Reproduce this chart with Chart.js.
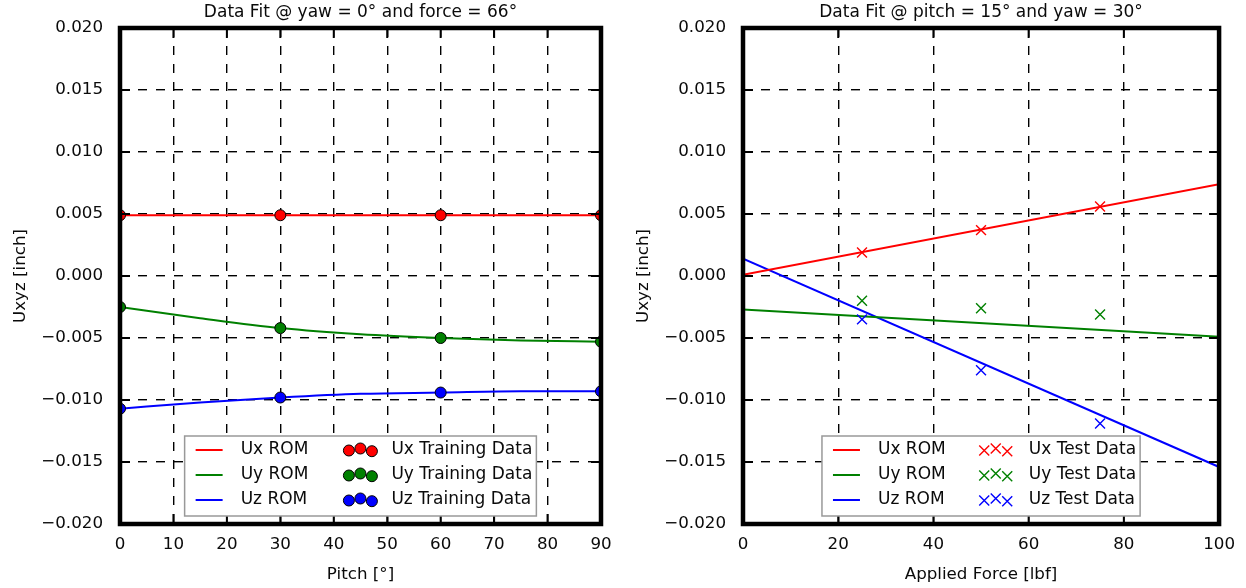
<!DOCTYPE html>
<html>
<head>
<meta charset="utf-8">
<script src="https://cdn.jsdelivr.net/npm/chart.js@4.4.1/dist/chart.umd.min.js"></script>
<style>
  html, body { margin: 0; padding: 0; background: #fff; }
  #wrap { position: relative; width: 1246px; height: 588px; }
  .panel { position: absolute; top: 0; width: 623px; height: 588px; }
</style>
</head>
<body>
<div id="wrap">
  <div class="panel" style="left:0"><canvas id="pitchChart" width="623" height="588"></canvas></div>
  <div class="panel" style="left:623px"><canvas id="forceChart" width="623" height="588"></canvas></div>
</div>
<script>
// Left panel: yaw = 0, force = 66, sweep over pitch
const pitchTrain = [0, 30, 60, 90];
const uxTrain = [0.0049, 0.0049, 0.0049, 0.0049];
const uyTrain = [-0.0025, -0.0042, -0.0050, -0.0053];
const uzTrain = [-0.0107, -0.0098, -0.0094, -0.0093];

// ROM fit curves read along the pitch axis
const pitchRom = [0, 15, 30, 45, 60, 75, 90];
const uxRomPitch = [0.0049, 0.0049, 0.0049, 0.0049, 0.0049, 0.0049, 0.0049];
const uyRomPitch = [-0.0025, -0.0034, -0.0042, -0.0047, -0.0050, -0.0052, -0.0053];
const uzRomPitch = [-0.0107, -0.0102, -0.0098, -0.0095, -0.0094, -0.0093, -0.0093];

// Right panel: pitch = 15, yaw = 30, sweep over applied force
const forceRom = [0, 100];
const uxRomForce = [0.0001, 0.0074];
const uyRomForce = [-0.0027, -0.0049];
const uzRomForce = [0.0014, -0.0154];

const forceTest = [25, 50, 75];
const uxTest = [0.0019, 0.0037, 0.0056];
const uyTest = [-0.0020, -0.0026, -0.0031];
const uzTest = [-0.0035, -0.0076, -0.0119];

// Tick labels
const yTicks = [-0.020, -0.015, -0.010, -0.005, 0.000, 0.005, 0.010, 0.015, 0.020];
const pitchTicks = [0, 10, 20, 30, 40, 50, 60, 70, 80, 90];
const forceTicks = [0, 20, 40, 60, 80, 100];

const RED = '#ff0000', GREEN = '#008000', BLUE = '#0000ff';
const FONT = '"DejaVu Sans", sans-serif';

Chart.defaults.font.family = FONT;
Chart.defaults.font.size = 16.7;
Chart.defaults.color = '#0a0a0a';

function pts(xs, ys) {
    return xs.map((x, i) => ({ x: x, y: ys[i] }));
}

function fmtY(v) {
    if (Math.abs(v) < 1e-9) return '0.000';
    return v.toFixed(3).replace('-', '\u2212');
}

// thick frame plus the short inward tick marks
const frameTicks = {
    id: 'frameTicks',
    afterDatasetsDraw(chart) {
        const { ctx, chartArea: a, scales } = chart;
        ctx.save();
        ctx.strokeStyle = '#000';
        ctx.lineWidth = 2;
        ctx.beginPath();
        scales.x.ticks.forEach(t => {
            const px = scales.x.getPixelForValue(t.value);
            ctx.moveTo(px, a.bottom); ctx.lineTo(px, a.bottom - 10);
            ctx.moveTo(px, a.top); ctx.lineTo(px, a.top + 10);
        });
        scales.y.ticks.forEach(t => {
            const py = scales.y.getPixelForValue(t.value);
            ctx.moveTo(a.left, py); ctx.lineTo(a.left + 10, py);
            ctx.moveTo(a.right, py); ctx.lineTo(a.right - 10, py);
        });
        ctx.stroke();
        ctx.lineWidth = 4.5;
        ctx.strokeRect(a.left, a.top, a.right - a.left, a.bottom - a.top);
        ctx.restore();
    }
};

// title above the plot and the boxed legend in the lower centre
const titleAndLegend = {
    id: 'titleAndLegend',
    afterDraw(chart, args, opts) {
        const { ctx, chartArea: a } = chart;
        const ds = chart.data.datasets;
        ctx.save();
        ctx.fillStyle = '#0a0a0a';
        ctx.font = '17px ' + FONT;
        ctx.textAlign = 'center';
        ctx.textBaseline = 'middle';
        ctx.fillText(opts.title, (a.left + a.right) / 2, 13);

        const lines = ds.filter(d => d.showLine);
        const marks = ds.filter(d => !d.showLine);
        ctx.font = '17px ' + FONT;
        const col1 = Math.max(...lines.map(d => ctx.measureText(d.label).width));
        const col2 = Math.max(...marks.map(d => ctx.measureText(d.label).width));
        const w = 11 + 27 + 18 + col1 + opts.colGap + 34 + opts.markGap + col2 + 4;
        const h = 80;
        const x0 = (a.left + a.right) / 2 - w / 2;
        const y0 = a.bottom - 8 - h;
        ctx.fillStyle = '#fff';
        ctx.fillRect(x0, y0, w, h);
        ctx.strokeStyle = '#999';
        ctx.lineWidth = 1.5;
        ctx.strokeRect(x0, y0, w, h);

        ctx.textAlign = 'left';
        const offs = [0.5, -1.5, 1.2];
        lines.forEach((d, i) => {
            const cy = y0 + 14 + i * 25;
            ctx.strokeStyle = d.borderColor;
            ctx.lineWidth = 2;
            ctx.beginPath();
            ctx.moveTo(x0 + 11, cy); ctx.lineTo(x0 + 38, cy);
            ctx.stroke();
            ctx.fillStyle = '#0a0a0a';
            ctx.fillText(d.label, x0 + 56, cy);

            const m = marks[i];
            const mx = x0 + 56 + col1 + opts.colGap;
            [5.5, 17, 28.5].forEach((dx, k) => {
                const px = mx + dx, py = cy + offs[k];
                if (opts.marker === 'circle') {
                    ctx.beginPath();
                    ctx.arc(px, py, 5.5, 0, Math.PI * 2);
                    ctx.fillStyle = m.backgroundColor;
                    ctx.fill();
                    ctx.strokeStyle = '#000';
                    ctx.lineWidth = 1;
                    ctx.stroke();
                } else {
                    ctx.strokeStyle = m.borderColor;
                    ctx.lineWidth = 1.4;
                    ctx.beginPath();
                    ctx.moveTo(px - 5, py - 5); ctx.lineTo(px + 5, py + 5);
                    ctx.moveTo(px - 5, py + 5); ctx.lineTo(px + 5, py - 5);
                    ctx.stroke();
                }
            });
            ctx.fillStyle = '#0a0a0a';
            ctx.fillText(m.label, mx + 34 + opts.markGap, cy);
        });
        ctx.restore();
    }
};

function axes(xTicks, xMin, xMax, xTitle) {
    return {
        x: {
            type: 'linear', min: xMin, max: xMax,
            afterBuildTicks: s => { s.ticks = xTicks.map(v => ({ value: v })); },
            afterFit: s => { s.height = 64; },
            grid: { color: '#000', lineWidth: 1.4, drawTicks: false },
            border: { display: false, dash: [9, 9] },
            ticks: { padding: 11 },
            title: { display: true, text: xTitle, padding: { bottom: 3 } }
        },
        y: {
            type: 'linear', min: -0.02, max: 0.02,
            afterBuildTicks: s => { s.ticks = yTicks.map(v => ({ value: v })); },
            afterFit: s => { s.width = 120; },
            grid: { color: '#000', lineWidth: 1.4, drawTicks: false },
            border: { display: false, dash: [9, 9] },
            ticks: { padding: 17, callback: v => fmtY(v) },
            title: { display: true, text: 'Uxyz [inch]', padding: { top: 11 } }
        }
    };
}

const romLine = (label, xs, ys, color) => ({
    label: label, data: pts(xs, ys), showLine: true, borderColor: color, backgroundColor: color,
    borderWidth: 2, pointRadius: 0, cubicInterpolationMode: 'monotone', order: 2, clip: 0
});

// Data Fit over pitch
new Chart(document.getElementById('pitchChart'), {
    type: 'scatter',
    data: {
        datasets: [
            romLine('Ux ROM', pitchRom, uxRomPitch, RED),
            romLine('Uy ROM', pitchRom, uyRomPitch, GREEN),
            romLine('Uz ROM', pitchRom, uzRomPitch, BLUE),
            { label: 'Ux Training Data', data: pts(pitchTrain, uxTrain), backgroundColor: RED, borderColor: '#000', borderWidth: 1, pointRadius: 5.5, order: 1, clip: 0 },
            { label: 'Uy Training Data', data: pts(pitchTrain, uyTrain), backgroundColor: GREEN, borderColor: '#000', borderWidth: 1, pointRadius: 5.5, order: 1, clip: 0 },
            { label: 'Uz Training Data', data: pts(pitchTrain, uzTrain), backgroundColor: BLUE, borderColor: '#000', borderWidth: 1, pointRadius: 5.5, order: 1, clip: 0 }
        ]
    },
    options: {
        responsive: false,
        animation: false,
        events: [],
        layout: { padding: { left: 0, right: 22, top: 28, bottom: 0 } },
        scales: axes(pitchTicks, 0, 90, 'Pitch [\u00b0]'),
        plugins: {
            legend: { display: false },
            tooltip: { enabled: false },
            titleAndLegend: { title: 'Data Fit @ yaw = 0\u00b0 and force = 66\u00b0', marker: 'circle', colGap: 35, markGap: 14 }
        }
    },
    plugins: [frameTicks, titleAndLegend]
});

// Data Fit over applied force
new Chart(document.getElementById('forceChart'), {
    type: 'scatter',
    data: {
        datasets: [
            romLine('Ux ROM', forceRom, uxRomForce, RED),
            romLine('Uy ROM', forceRom, uyRomForce, GREEN),
            romLine('Uz ROM', forceRom, uzRomForce, BLUE),
            { label: 'Ux Test Data', data: pts(forceTest, uxTest), borderColor: RED, backgroundColor: RED, pointStyle: 'crossRot', pointRadius: 7, borderWidth: 1.4, order: 1, clip: 0 },
            { label: 'Uy Test Data', data: pts(forceTest, uyTest), borderColor: GREEN, backgroundColor: GREEN, pointStyle: 'crossRot', pointRadius: 7, borderWidth: 1.4, order: 1, clip: 0 },
            { label: 'Uz Test Data', data: pts(forceTest, uzTest), borderColor: BLUE, backgroundColor: BLUE, pointStyle: 'crossRot', pointRadius: 7, borderWidth: 1.4, order: 1, clip: 0 }
        ]
    },
    options: {
        responsive: false,
        animation: false,
        events: [],
        layout: { padding: { left: 0, right: 26, top: 28, bottom: 0 } },
        scales: axes(forceTicks, 0, 100, 'Applied Force [lbf]'),
        plugins: {
            legend: { display: false },
            tooltip: { enabled: false },
            titleAndLegend: { title: 'Data Fit @ pitch = 15\u00b0 and yaw = 30\u00b0', marker: 'cross', colGap: 33, markGap: 16 }
        }
    },
    plugins: [frameTicks, titleAndLegend]
});
</script>
</body>
</html>
